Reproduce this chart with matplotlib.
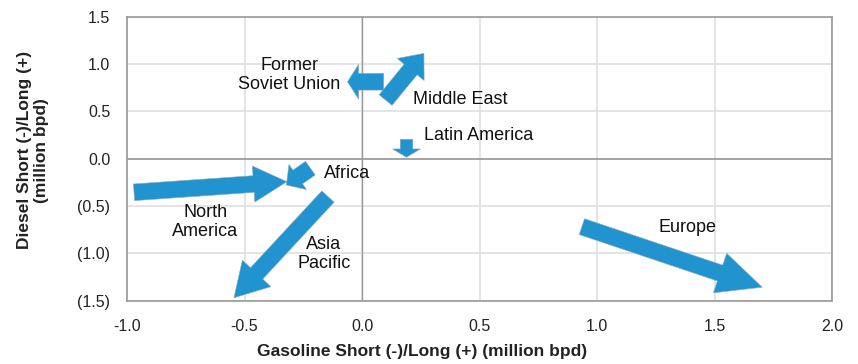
import matplotlib
matplotlib.use("Agg")
import matplotlib.pyplot as plt
from matplotlib.patches import FancyArrowPatch, ArrowStyle

plt.rcParams['font.family'] = ['Liberation Sans', 'DejaVu Sans']

# regions: (tail x, tail y) -> (head x, head y), gasoline vs diesel balance
regions = ["North America", "Africa", "Asia Pacific", "Former Soviet Union",
           "Middle East", "Latin America", "Europe"]
x_start = [-0.97, -0.22, -0.145, 0.092, 0.10, 0.189, 0.935]
y_start = [-0.355, -0.10, -0.40, 0.813, 0.62, 0.205, -0.718]
x_end = [-0.32, -0.322, -0.545, -0.062, 0.263, 0.189, 1.702]
y_end = [-0.243, -0.278, -1.47, 0.813, 1.113, 0.015, -1.358]

# arrow styles (points): tail width, head width, head length
arrow_sizes = [(12, 26, 24), (12, 22, 10), (12, 28, 24), (12, 25, 8),
               (12, 25, 15), (9, 20, 6), (12, 30, 32)]

labels = ["North\nAmerica", "Africa", "Asia\nPacific", "Former\nSoviet Union",
          "Middle East", "Latin America", "Europe"]
label_x = [-0.666, -0.16, -0.162, -0.31, 0.216, 0.262, 1.386]
label_y = [-0.67, -0.16, -1.006, 0.88, 0.63, 0.24, -0.73]
label_ha = ["center", "left", "center", "center", "left", "left", "center"]

xticks = [-1.0, -0.5, 0.0, 0.5, 1.0, 1.5, 2.0]
yticks = [1.5, 1.0, 0.5, 0.0, -0.5, -1.0, -1.5]
ytick_labels = ["1.5", "1.0", "0.5", "0.0", "(0.5)", "(1.0)", "(1.5)"]

fig = plt.figure(figsize=(8.58, 3.64), dpi=100)
ax = fig.add_axes([0.148, 0.174, 0.822, 0.780])
ax.set_xlim(-1.0, 2.0)
ax.set_ylim(-1.5, 1.5)

ax.set_xticks(xticks)
ax.set_xticklabels(["%.1f" % v for v in xticks])
ax.set_yticks(yticks)
ax.set_yticklabels(ytick_labels)
ax.tick_params(length=0, labelsize=11.5, colors="#222222")
ax.tick_params(axis="x", pad=13)
ax.tick_params(axis="y", pad=12)

ax.grid(True, color="#e2e2e2", lw=1.3)
ax.set_axisbelow(True)
ax.axhline(0, color="#999999", lw=1.2, zorder=1)
ax.axvline(0, color="#999999", lw=1.0, zorder=1)
for s in ax.spines.values():
    s.set_color("#999999")
    s.set_linewidth(1.2)

for i in range(len(regions)):
    tw, hw, hl = arrow_sizes[i]
    style = ArrowStyle("simple", head_length=hl, head_width=hw, tail_width=tw)
    arr = FancyArrowPatch((x_start[i], y_start[i]), (x_end[i], y_end[i]),
                          arrowstyle=style, mutation_scale=1,
                          shrinkA=0, shrinkB=0,
                          facecolor="#2193cf", edgecolor="#8aa9bd", lw=0.4,
                          zorder=3)
    ax.add_patch(arr)
    ax.text(label_x[i], label_y[i], labels[i], ha=label_ha[i], va="center",
            fontsize=13, color="#111111", linespacing=1.15, zorder=4)

ax.set_xlabel("Gasoline Short (-)/Long (+) (million bpd)", fontsize=12.5,
              fontweight="bold", color="#222222")
ax.set_ylabel("Diesel Short (-)/Long (+)\n(million bpd)", fontsize=12.5,
              fontweight="bold", color="#222222")
ax.xaxis.set_label_coords(0.418, -0.152)
ax.yaxis.set_label_coords(-0.11, 0.53)

fig.savefig("out.png", dpi=100)
